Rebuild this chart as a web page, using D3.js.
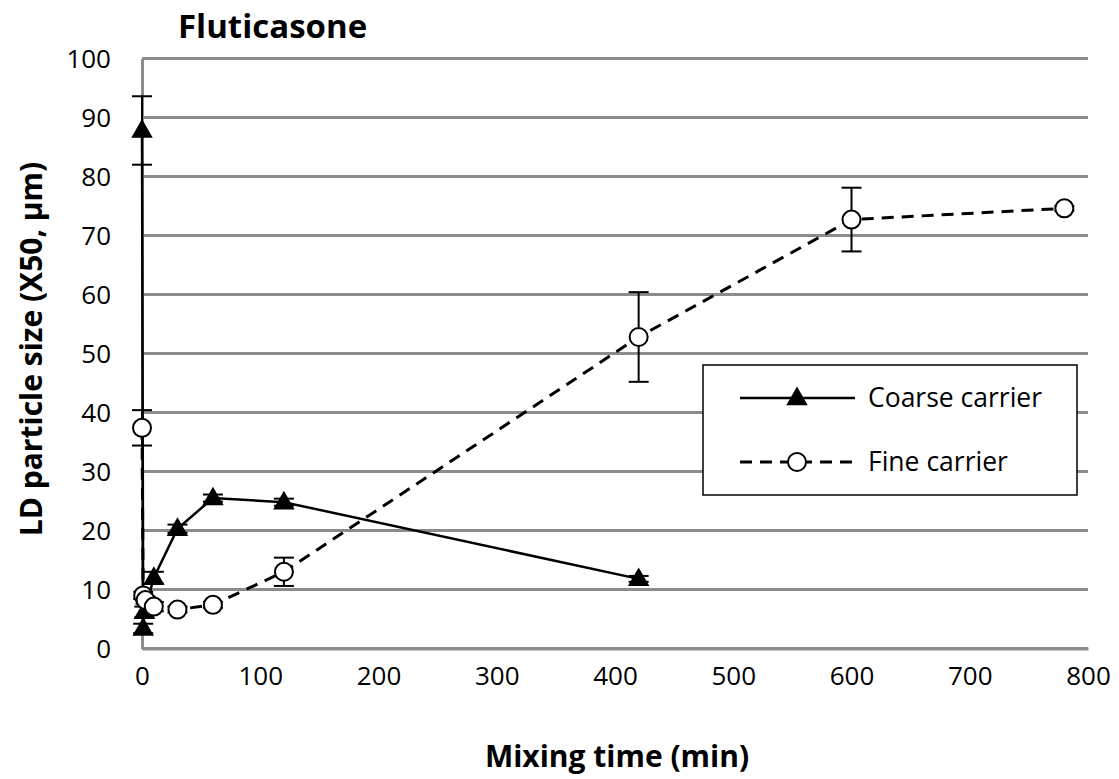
<!DOCTYPE html>
<html><head><meta charset="utf-8">
<script src="https://cdn.jsdelivr.net/npm/d3@7"></script>
<style>body{margin:0;background:#fff}svg{display:block}text{font-family:"Open Sans",sans-serif;fill:#000}</style>
</head><body>
<svg id="c" width="1119" height="779"></svg>
<script>
const xTicks = [0,100,200,300,400,500,600,700,800];
const yTicks = [0,10,20,30,40,50,60,70,80,90,100];
const coarseTime = [0, 1, 2, 10, 30, 60, 120, 420];
const coarseSize = [87.8, 3.4, 6.2, 12.0, 20.3, 25.5, 24.8, 11.8];
const coarseErr  = [5.8, 0.8, 0.9, 1.0, 0.7, 0.6, 0.6, 0.5];
const fineTime = [0, 1, 3, 10, 30, 60, 120, 420, 600, 780];
const fineSize = [37.4, 9.0, 8.2, 7.1, 6.6, 7.4, 13.0, 52.8, 72.7, 74.6];
const fineErr  = [3.0, 0.6, 0.6, 0.8, 0.5, 0.5, 2.4, 7.6, 5.4, 0.4];
const seriesNames = ["Coarse carrier", "Fine carrier"];

const svg = d3.select("#c");
const x = d3.scaleLinear().domain([0,800]).range([142,1088]);
const y = d3.scaleLinear().domain([0,100]).range([648.5,58.5]);
const grid = "#8c8c8c";

svg.append("g").selectAll("line").data(yTicks).join("line")
  .attr("x1", x(0)).attr("x2", x(800)).attr("y1", d=>y(d)).attr("y2", d=>y(d))
  .attr("stroke", grid).attr("stroke-width", 3);

const yAxis = svg.append("g").attr("transform", `translate(${x(0)},0)`)
  .call(d3.axisLeft(y).tickValues(yTicks).tickSize(0).tickPadding(31));
yAxis.select(".domain").attr("stroke", grid).attr("stroke-width", 3);
yAxis.selectAll("text").style("font-size","26px").attr("dy","0.35em");

const xAxis = svg.append("g").attr("transform", `translate(0,${y(0)})`)
  .call(d3.axisBottom(x).tickValues(xTicks).tickSize(0).tickPadding(27));
xAxis.select(".domain").attr("stroke", grid).attr("stroke-width", 3);
xAxis.selectAll("text").style("font-size","26px").attr("dy","0.35em");

svg.append("text").attr("x",178).attr("y",38).style("font-size","33px").style("font-weight","bold").text("Fluticasone");
svg.append("text").attr("x",617).attr("y",767).attr("text-anchor","middle").style("font-size","30px").style("font-weight","bold").text("Mixing time (min)");
svg.append("text").attr("transform","translate(42,349) rotate(-90)").attr("text-anchor","middle").style("font-size","30px").style("font-weight","bold").text("LD particle size (X50, µm)");

const coarse = coarseTime.map((t,i)=>({t, v:coarseSize[i], e:coarseErr[i]}));
const fine = fineTime.map((t,i)=>({t, v:fineSize[i], e:fineErr[i]}));
const line = d3.line().x(d=>x(d.t)).y(d=>y(d.v));

function errBars(data){
  const g = svg.append("g").attr("stroke","#000").attr("stroke-width",2);
  data.forEach(d=>{
    g.append("line").attr("x1",x(d.t)).attr("x2",x(d.t)).attr("y1",y(d.v-d.e)).attr("y2",y(d.v+d.e));
    [d.v-d.e, d.v+d.e].forEach(v=>g.append("line").attr("x1",x(d.t)-10).attr("x2",x(d.t)+10).attr("y1",y(v)).attr("y2",y(v)));
  });
}
errBars(fine);
errBars(coarse);

svg.append("path").datum(fine).attr("d",line).attr("fill","none").attr("stroke","#000").attr("stroke-width",3).attr("stroke-dasharray","12,8");
svg.append("path").datum(coarse).attr("d",line).attr("fill","none").attr("stroke","#000").attr("stroke-width",2.5);

const tri = d3.symbol().type(d3.symbolTriangle).size(200);
svg.append("g").selectAll("path").data(coarse).join("path")
  .attr("d", tri).attr("transform", d=>`translate(${x(d.t)},${y(d.v)+1})`).attr("fill","#000");
svg.append("g").selectAll("circle").data(fine).join("circle")
  .attr("cx", d=>x(d.t)).attr("cy", d=>y(d.v)).attr("r",9)
  .attr("fill","#fff").attr("stroke","#000").attr("stroke-width",2);

const lg = svg.append("g");
lg.append("rect").attr("x",703).attr("y",365).attr("width",374).attr("height",130).attr("fill","#fff").attr("stroke","#000").attr("stroke-width",1.5);
const rows = [{name:seriesNames[0], yy:398, dash:null}, {name:seriesNames[1], yy:462, dash:"12,8"}];
rows.forEach((r,i)=>{
  lg.append("line").attr("x1",740).attr("x2",855).attr("y1",r.yy).attr("y2",r.yy).attr("stroke","#000").attr("stroke-width", i?3:2.5).attr("stroke-dasharray", r.dash);
  if(i===0) lg.append("path").attr("d",tri).attr("transform",`translate(797,${r.yy+1})`).attr("fill","#000");
  else lg.append("circle").attr("cx",797).attr("cy",r.yy).attr("r",9).attr("fill","#fff").attr("stroke","#000").attr("stroke-width",2);
  lg.append("text").attr("x",868).attr("y",r.yy).attr("dy","0.35em").style("font-size","26.5px").text(r.name);
});
</script>
</body></html>
